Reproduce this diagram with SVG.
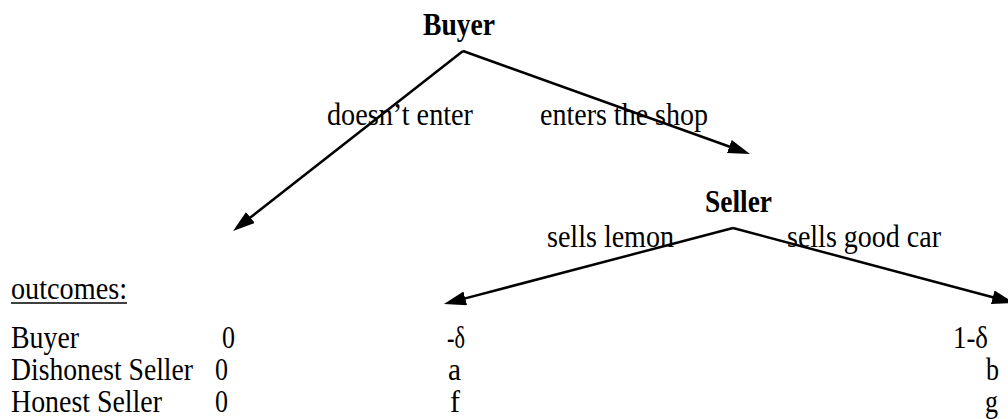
<svg xmlns="http://www.w3.org/2000/svg" width="1008" height="419" viewBox="0 0 1008 419">
<style>
text{font-family:"Liberation Serif","Times New Roman",serif;font-size:31px;fill:#000}
.b{font-weight:bold}
.c{fill:none;stroke:#000;stroke-width:2.5}
</style>
<defs>
<marker id="ah" markerUnits="userSpaceOnUse" markerWidth="24" markerHeight="16" refX="2" refY="7" orient="auto">
<path d="M0,0 L22,7 L0,14 z" fill="#000"/>
</marker>
</defs>
<rect width="1008" height="419" fill="#fff"/>
<g id="connectors">
<line class="c" x1="463" y1="51" x2="248.8" y2="218.7" marker-end="url(#ah)"/>
<line class="c" x1="463" y1="51" x2="731.2" y2="147.2" marker-end="url(#ah)"/>
<line class="c" x1="733" y1="228" x2="463.3" y2="298.9" marker-end="url(#ah)"/>
<line class="c" x1="733" y1="228" x2="994.7" y2="297.8" marker-end="url(#ah)"/>
</g>
<g id="labels">
<text x="327" y="125" textLength="146" lengthAdjust="spacingAndGlyphs">doesn’t enter</text>
<text x="540" y="125" textLength="168" lengthAdjust="spacingAndGlyphs">enters the shop</text>
<text x="547" y="247" textLength="127" lengthAdjust="spacingAndGlyphs">sells lemon</text>
<text x="787" y="247" textLength="154" lengthAdjust="spacingAndGlyphs">sells good car</text>
</g>
<g id="buyer"><text class="b" x="423" y="35" textLength="72" lengthAdjust="spacingAndGlyphs">Buyer</text></g>
<g id="seller"><text class="b" x="705" y="212" textLength="67" lengthAdjust="spacingAndGlyphs">Seller</text></g>
<g id="outcomes">
<text x="11" y="299" textLength="116" lengthAdjust="spacingAndGlyphs">outcomes:</text>
<line x1="11" y1="303" x2="127" y2="303" stroke="#000" stroke-width="1.5"/>
<text x="11" y="348" textLength="68" lengthAdjust="spacingAndGlyphs">Buyer</text>
<text x="11" y="380" textLength="182" lengthAdjust="spacingAndGlyphs">Dishonest Seller</text>
<text x="11" y="412" textLength="151" lengthAdjust="spacingAndGlyphs">Honest Seller</text>
<text x="222" y="348" textLength="13" lengthAdjust="spacingAndGlyphs">0</text>
<text x="215" y="380" textLength="13" lengthAdjust="spacingAndGlyphs">0</text>
<text x="215" y="412" textLength="13" lengthAdjust="spacingAndGlyphs">0</text>
<text x="447" y="348" textLength="18" lengthAdjust="spacingAndGlyphs">-δ</text>
<text x="448" y="380" textLength="13" lengthAdjust="spacingAndGlyphs">a</text>
<text x="450" y="412" textLength="10" lengthAdjust="spacingAndGlyphs">f</text>
<text x="953" y="348" textLength="35" lengthAdjust="spacingAndGlyphs">1-δ</text>
<text x="986" y="380" textLength="13" lengthAdjust="spacingAndGlyphs">b</text>
<text x="985" y="412" textLength="13" lengthAdjust="spacingAndGlyphs">g</text>
</g>
</svg>
